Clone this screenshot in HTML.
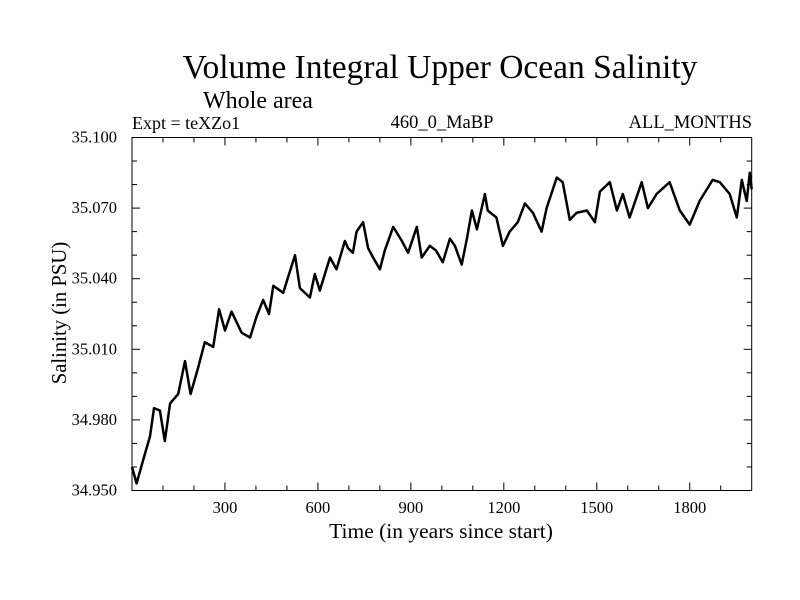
<!DOCTYPE html>
<html><head><meta charset="utf-8"><style>
body{margin:0;background:#fff}
svg{display:block;font-family:"Liberation Serif",serif}
</style></head><body>
<svg id="chart" width="800" height="600" viewBox="0 0 800 600" xmlns="http://www.w3.org/2000/svg">
<rect width="800" height="600" fill="#fff"/>
<text x="440" y="78" font-size="33.5" text-anchor="middle">Volume Integral Upper Ocean Salinity</text>
<text x="203" y="108" font-size="24">Whole area</text>
<text x="132" y="129" font-size="18">Expt = teXZo1</text>
<text x="442" y="128" font-size="18.5" text-anchor="middle">460_0_MaBP</text>
<text x="752" y="128" font-size="18.5" text-anchor="end">ALL_MONTHS</text>
<text x="441" y="538" font-size="21.5" text-anchor="middle">Time (in years since start)</text>
<text transform="translate(66,313) rotate(-90)" font-size="20.7" text-anchor="middle">Salinity (in PSU)</text>
<g id="axes"></g>
<path id="series" fill="none" stroke="#000" stroke-width="2.5" stroke-linejoin="round"/>
<rect x="132" y="137.5" width="619.7" height="353" fill="none" stroke="#000" stroke-width="1"/>
</svg>
<script>
const years=[0,15,36,58,71,90,106,123,149,171,189,213,235,262,281,300,321,354,381,402,423,442,456,488,526,542,574,590,606,639,660,687,697,713,725,746,762,778,800,816,843,871,891,919,935,961,981,1003,1026,1042,1064,1081,1097,1113,1139,1148,1176,1197,1219,1245,1268,1294,1322,1338,1371,1390,1413,1435,1468,1494,1510,1542,1565,1584,1606,1645,1665,1693,1735,1768,1800,1832,1874,1897,1929,1952,1968,1984,1994,2000];
const salinity=[34.960,34.953,34.963,34.973,34.985,34.984,34.971,34.987,34.991,35.005,34.991,35.002,35.013,35.011,35.027,35.018,35.026,35.017,35.015,35.024,35.031,35.025,35.037,35.034,35.050,35.036,35.032,35.042,35.035,35.049,35.044,35.056,35.053,35.051,35.060,35.064,35.053,35.049,35.044,35.052,35.062,35.056,35.051,35.062,35.049,35.054,35.052,35.047,35.057,35.054,35.046,35.057,35.069,35.061,35.076,35.069,35.066,35.054,35.060,35.064,35.072,35.068,35.060,35.070,35.083,35.081,35.065,35.068,35.069,35.064,35.077,35.081,35.069,35.076,35.066,35.081,35.070,35.076,35.081,35.069,35.063,35.073,35.082,35.081,35.076,35.066,35.082,35.073,35.085,35.078];
const xTicks=[300,600,900,1200,1500,1800];
const yTicks=[34.95,34.98,35.01,35.04,35.07,35.10];
const yTickLabels=["34.950","34.980","35.010","35.040","35.070","35.100"];
const L=132,R=751.7,T=137.5,B=490.5;
const sx=v=>L+(v-0)/(2000-0)*(R-L);
const sy=v=>B-(v-34.95)/(35.10-34.95)*(B-T);
const NS="http://www.w3.org/2000/svg";
const ax=document.getElementById('axes');
function ln(x1,y1,x2,y2,name){const l=document.createElementNS(NS,'line');l.setAttribute('x1',x1);l.setAttribute('y1',y1);l.setAttribute('x2',x2);l.setAttribute('y2',y2);l.setAttribute('stroke','#000');l.setAttribute('stroke-width','1');


ax.appendChild(l);}
function tx(x,y,s,anchor,name){const t=document.createElementNS(NS,'text');t.setAttribute('x',x);t.setAttribute('y',y);t.setAttribute('font-size','16.5');t.setAttribute('text-anchor',anchor);t.textContent=s;


ax.appendChild(t);}
for(let v=100;v<2000;v+=100){const maj=v%300===0;const L2=maj?8:5;ln(sx(v),B,sx(v),B-L2,'x-tick');ln(sx(v),T,sx(v),T+L2,'x-tick-top');}
for(let i=0;i<=15;i++){const v=34.95+i*0.01;const maj=i%3===0;const L2=maj?8:5;ln(L,sy(v),L+L2,sy(v),'y-tick');ln(R,sy(v),R-L2,sy(v),'y-tick-right');}
xTicks.forEach(v=>tx(sx(v),513,String(v),'middle','x-tick-label'));
yTicks.forEach((v,i)=>tx(117,sy(v)+5,yTickLabels[i],'end','y-tick-label'));
document.getElementById('series').setAttribute('d',years.map((y,i)=>(i?'L':'M')+sx(y).toFixed(1)+','+sy(salinity[i]).toFixed(1)).join(''));
</script>
</body></html>
